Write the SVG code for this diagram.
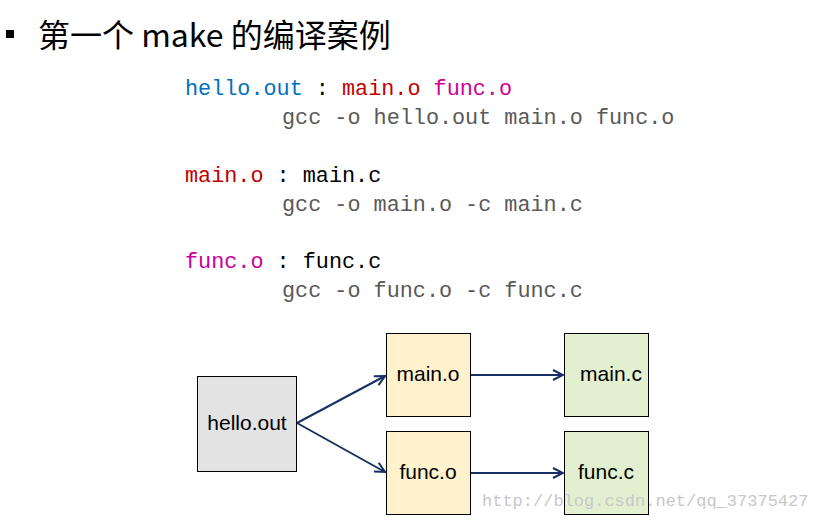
<svg xmlns="http://www.w3.org/2000/svg" width="817" height="520" viewBox="0 0 817 520">
<style>
.title{font-family:"Noto Sans CJK SC","Noto Sans",sans-serif;font-size:32px;fill:#000}
.code{font-family:"Liberation Mono","DejaVu Sans Mono",monospace;font-size:21.8px}
.g{fill:#595959}.b{fill:#0070c0}.r{fill:#c00000}.m{fill:#cc0099}.k{fill:#000}
.box{stroke:#000;stroke-width:1}
.lbl{font-family:"Liberation Sans",Arial,sans-serif;font-size:21px;fill:#000;text-anchor:middle}
.conn{stroke:#172f63;stroke-width:2;fill:none;marker-end:url(#arr)}
.wm{font-family:"Liberation Mono",monospace;font-size:17px;fill:#c8c8c8}
</style>
<defs>
<marker id="arr" viewBox="0 0 12 12" refX="11" refY="6" markerWidth="12" markerHeight="12" markerUnits="userSpaceOnUse" orient="auto">
<path d="M1,1 L11,6 L1,11" fill="none" stroke="#172f63" stroke-width="2"/>
</marker>
</defs>
<rect width="817" height="520" fill="#fff"/>
<rect x="6" y="30" width="8" height="8" fill="#000"/>
<text class="title" x="38" y="47">第一个 make 的编译案例</text>
<g id="code" class="code">
<text x="185" y="95"><tspan class="b">hello.out</tspan><tspan class="k"> : </tspan><tspan class="r">main.o</tspan><tspan class="m"> func.o</tspan></text>
<text x="282" y="124" class="g">gcc -o hello.out main.o func.o</text>
<text x="185" y="182"><tspan class="r">main.o</tspan><tspan class="k"> : main.c</tspan></text>
<text x="282" y="211" class="g">gcc -o main.o -c main.c</text>
<text x="185" y="268"><tspan class="m">func.o</tspan><tspan class="k"> : func.c</tspan></text>
<text x="282" y="297" class="g">gcc -o func.o -c func.c</text>
</g>
<g id="connectors">
<line class="conn" x1="297" y1="423" x2="385" y2="376"/>
<line class="conn" x1="297" y1="423" x2="385" y2="472"/>
<line class="conn" x1="470" y1="375" x2="563" y2="375"/>
<line class="conn" x1="470" y1="473" x2="563" y2="473"/>
</g>
<g id="hello_out"><rect class="box" x="197.5" y="376.5" width="99" height="95" fill="#e3e3e3"/><text class="lbl" x="247" y="430">hello.out</text></g>
<g id="main_o"><rect class="box" x="386.5" y="333.5" width="84" height="83" fill="#fff2cc"/><text class="lbl" x="428" y="381">main.o</text></g>
<g id="func_o"><rect class="box" x="386.5" y="431.5" width="84" height="83" fill="#fff2cc"/><text class="lbl" x="428" y="479">func.o</text></g>
<g id="main_c"><rect class="box" x="564.5" y="333.5" width="84" height="83" fill="#e2f0d0"/><text class="lbl" x="611" y="381">main.c</text></g>
<g id="func_c"><rect class="box" x="564.5" y="431.5" width="84" height="83" fill="#e2f0d0"/><text class="lbl" x="606" y="479">func.c</text></g>
<text class="wm" x="482" y="506">http://blog.csdn.net/qq_37375427</text>
</svg>
